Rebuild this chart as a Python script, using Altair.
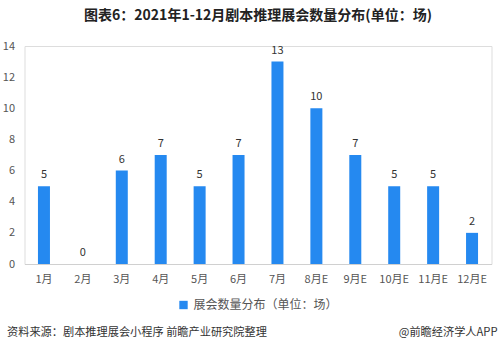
import altair as alt
import pandas as pd

months = ["1月", "2月", "3月", "4月", "5月", "6月", "7月", "8月E", "9月E", "10月E", "11月E", "12月E"]
values = [5, 0, 6, 7, 5, 7, 13, 10, 7, 5, 5, 2]
series_name = "展会数量分布（单位：场）"
title_text = "图表6：2021年1-12月剧本推理展会数量分布(单位：场)"
source_text = "资料来源：剧本推理展会小程序 前瞻产业研究院整理"
brand_text = "@前瞻经济学人APP"
y_ticks = [0, 2, 4, 6, 8, 10, 12, 14]

df = pd.DataFrame({"month": months, "value": values, "series": [series_name] * len(months)})

FONT = "Noto Sans CJK SC"
BLUE = "#2589f0"

x_enc = alt.X("month:N", sort=months, scale=alt.Scale(paddingInner=0.5, paddingOuter=0.25),
              axis=alt.Axis(title=None, labelAngle=0, ticks=False, domainColor="#d0d0d0",
                            labelColor="#555555", labelFontSize=11, labelFont=FONT, labelPadding=9))
y_enc = alt.Y("value:Q", scale=alt.Scale(domain=[0, 14], nice=False),
              axis=alt.Axis(title=None, values=y_ticks, grid=False, domain=False, ticks=False,
                            labelOverlap=False, labelFlush=False, labelBound=False, labelSeparation=0,
                            labelColor="#555555", labelFontSize=11, labelFont=FONT, labelPadding=10))

bars = alt.Chart(df).mark_bar(size=12).encode(
    x=x_enc, y=y_enc,
    color=alt.Color("series:N", scale=alt.Scale(range=[BLUE]),
                    legend=alt.Legend(title=None, orient="none", legendX=153, legendY=253,
                                      symbolType="square", symbolSize=70, labelFontSize=12,
                                      labelFont=FONT, labelColor="#555555", symbolStrokeWidth=0)),
)

labels = alt.Chart(df).mark_text(baseline="bottom", dy=-6, fontSize=11, font=FONT, color="#333333").encode(
    x=x_enc, y=y_enc, text="value:Q"
)

footer_df = pd.DataFrame({"t": [source_text]})
footer = alt.Chart(footer_df).mark_text(align="left", baseline="middle", fontSize=11.2, font=FONT,
                                        color="#333333").encode(
    x=alt.value(-17.5), y=alt.value(287), text="t:N")

brand_df = pd.DataFrame({"t": [brand_text]})
brand = alt.Chart(brand_df).mark_text(align="right", baseline="middle", fontSize=11.2, font=FONT,
                                      color="#333333").encode(
    x=alt.value(473), y=alt.value(287), text="t:N")

chart = alt.layer(bars, labels, footer, brand).properties(
    width=467, height=218,
    title=alt.TitleParams(title_text, font=FONT, fontSize=14, fontWeight="bold", color="#222222",
                          anchor="middle", offset=17),
    autosize=alt.AutoSizeParams(type="none"),
    padding={"left": 24.5, "right": 7.5, "top": 46, "bottom": 87},
).configure_view(stroke=None).configure_axis(labelOverlap=False).configure(background="white")

chart.save("out.html", embed_options={"renderer": "svg", "actions": False})
